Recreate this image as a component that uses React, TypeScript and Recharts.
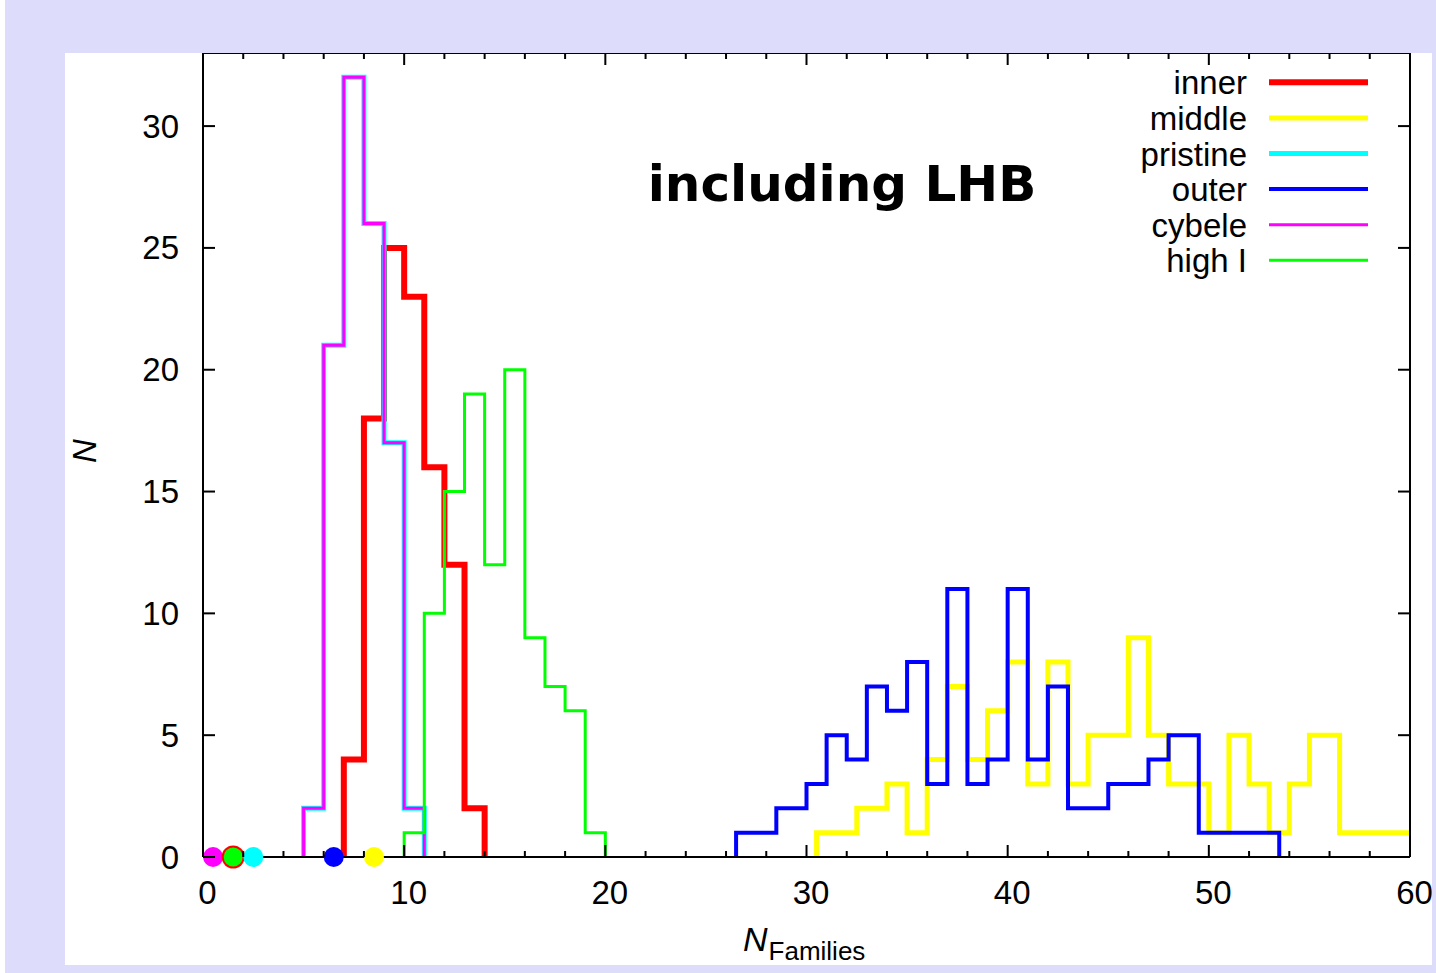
import React from 'react';
import { ComposedChart, Line, Scatter, XAxis, YAxis } from 'recharts';

// bin edges and counts of each family-count histogram
const innerEdges = [7, 8, 9, 10, 11, 12, 13, 14];
const innerCounts = [4, 18, 25, 23, 16, 12, 2];

const middleEdges = [30.5, 32.5, 34, 35, 36, 37, 38, 39, 40, 41, 42, 43, 44, 46, 47, 48, 50, 51, 52, 53, 54, 55, 56.5, 60];
const middleCounts = [1, 2, 3, 1, 4, 7, 4, 6, 8, 3, 8, 3, 5, 9, 5, 3, 1, 5, 3, 1, 3, 5, 1];

const pristineEdges = [5, 6, 7, 8, 9, 10, 11];
const pristineCounts = [2, 21, 32, 26, 17, 2];

const outerEdges = [26.5, 28.5, 30, 31, 32, 33, 34, 35, 36, 37, 38, 39, 40, 41, 42, 43, 45, 47, 48, 49.5, 53.5];
const outerCounts = [1, 2, 3, 5, 4, 7, 6, 8, 3, 11, 3, 4, 11, 4, 7, 2, 3, 4, 5, 1];

const cybeleEdges = [5, 6, 7, 8, 9, 10, 11];
const cybeleCounts = [2, 21, 32, 26, 17, 2];

const highIEdges = [10, 11, 12, 13, 14, 15, 16, 17, 18, 19, 20];
const highICounts = [1, 10, 15, 19, 12, 20, 9, 7, 6, 1];

// observed number of families per region
const observedNames = ['cybele', 'inner', 'high I', 'pristine', 'outer', 'middle'];
const observedX = [0.5, 1.5, 1.5, 2.5, 6.5, 8.5];

const xTicks = [0, 2, 4, 6, 8, 10, 12, 14, 16, 18, 20, 22, 24, 26, 28, 30, 32, 34, 36, 38, 40, 42, 44, 46, 48, 50, 52, 54, 56, 58, 60];
const yTicks = [0, 5, 10, 15, 20, 25, 30];
const X_MAX = 60;

const styles: Record<string, { color: string; width: number; r: number }> = {
  inner: { color: '#ff0000', width: 6, r: 11.5 },
  middle: { color: '#ffff00', width: 5, r: 10 },
  pristine: { color: '#00ffff', width: 5, r: 10 },
  outer: { color: '#0000ff', width: 4, r: 10 },
  cybele: { color: '#ff00ff', width: 3, r: 10 },
  'high I': { color: '#00ff00', width: 3, r: 9.5 },
};

const toSteps = (edges: number[], counts: number[]) => {
  const pts = [{ x: edges[0], y: 0 }];
  counts.forEach((c, i) => pts.push({ x: edges[i], y: c }));
  const last = edges[edges.length - 1];
  pts.push({ x: last, y: last >= X_MAX ? counts[counts.length - 1] : 0 });
  return pts;
};

const series = [
  { name: 'inner', data: toSteps(innerEdges, innerCounts) },
  { name: 'middle', data: toSteps(middleEdges, middleCounts) },
  { name: 'pristine', data: toSteps(pristineEdges, pristineCounts) },
  { name: 'outer', data: toSteps(outerEdges, outerCounts) },
  { name: 'cybele', data: toSteps(cybeleEdges, cybeleCounts) },
  { name: 'high I', data: toSteps(highIEdges, highICounts) },
];

const FONT = '"Liberation Sans", Arial, sans-serif';
const FS = 33;

const BottomTick = (props: any) => {
  const { x, y, payload } = props;
  const major = payload.value % 10 === 0;
  return (
    <g>
      <line x1={x} y1={y} x2={x} y2={y - (major ? 12 : 6)} stroke="#000" strokeWidth={2} />
      {major && (
        <text x={x + 4.5} y={y + 47} textAnchor="middle" fontFamily={FONT} fontSize={FS} fill="#000">
          {payload.value}
        </text>
      )}
    </g>
  );
};

const TopTick = (props: any) => {
  const { x, y, payload } = props;
  const major = payload.value % 10 === 0;
  return <line x1={x} y1={y} x2={x} y2={y + (major ? 12 : 6)} stroke="#000" strokeWidth={2} />;
};

const LeftTick = (props: any) => {
  const { x, y, payload } = props;
  return (
    <g>
      <line x1={x} y1={y} x2={x + 12} y2={y} stroke="#000" strokeWidth={2} />
      <text x={x - 24} y={y + 11.5} textAnchor="end" fontFamily={FONT} fontSize={FS} fill="#000">
        {payload.value}
      </text>
    </g>
  );
};

const RightTick = (props: any) => {
  const { x, y } = props;
  return <line x1={x} y1={y} x2={x - 12} y2={y} stroke="#000" strokeWidth={2} />;
};

const axisLine = { stroke: '#000', strokeWidth: 2 };

export default function App() {
  return (
    <div style={{ position: 'absolute', left: 5, top: 0, width: 1431, height: 973, background: '#dddcfb' }}>
      <div style={{ position: 'absolute', left: 60, top: 53, width: 1367, height: 912, background: '#fff' }}>
        <ComposedChart width={1367} height={912} margin={{ top: -1, right: 21, bottom: 0, left: 0 }}>
          <XAxis
            xAxisId="b"
            type="number"
            dataKey="x"
            domain={[0, 60]}
            ticks={xTicks}
            interval={0}
            height={108}
            tickSize={0}
            tickMargin={0}
            tickLine={false}
            axisLine={axisLine}
            tick={BottomTick}
          />
          <XAxis
            xAxisId="t"
            orientation="top"
            type="number"
            dataKey="x"
            domain={[0, 60]}
            ticks={xTicks}
            interval={0}
            height={1}
            tickSize={0}
            tickMargin={0}
            tickLine={false}
            axisLine={axisLine}
            tick={TopTick}
          />
          <YAxis
            yAxisId="l"
            type="number"
            domain={[0, 33]}
            ticks={yTicks}
            interval={0}
            width={138}
            tickSize={0}
            tickMargin={0}
            tickLine={false}
            axisLine={axisLine}
            tick={LeftTick}
          />
          <YAxis
            yAxisId="r"
            orientation="right"
            type="number"
            domain={[0, 33]}
            ticks={yTicks}
            interval={0}
            width={1}
            tickSize={0}
            tickMargin={0}
            tickLine={false}
            axisLine={axisLine}
            tick={RightTick}
          />

          {observedNames.map((name, i) => (
            <Scatter
              key={'obs-' + name}
              xAxisId="t"
              yAxisId="r"
              data={[{ x: observedX[i], y: 0 }]}
              dataKey="y"
              isAnimationActive={false}
              shape={(p: any) => <circle cx={p.cx} cy={p.cy} r={styles[name].r} fill={styles[name].color} />}
            />
          ))}

          {series.map((s) => (
            <Line
              key={s.name}
              xAxisId="b"
              yAxisId="l"
              type="stepAfter"
              data={s.data}
              dataKey="y"
              name={s.name}
              stroke={styles[s.name].color}
              strokeWidth={styles[s.name].width}
              dot={false}
              activeDot={false}
              isAnimationActive={false}
            />
          ))}

          <text x={777} y={148} textAnchor="middle" fontFamily="DejaVu Sans" fontWeight="bold" fontSize={50} fill="#000">
            including LHB
          </text>

          <g>
            {series.map((s, i) => (
              <g key={'leg-' + s.name}>
                <text x={1182} y={29.3 + i * 35.6 + 12} textAnchor="end" fontFamily={FONT} fontSize={FS} fill="#000">
                  {s.name}
                </text>
                <line
                  x1={1204}
                  x2={1303}
                  y1={29.3 + i * 35.6}
                  y2={29.3 + i * 35.6}
                  stroke={styles[s.name].color}
                  strokeWidth={styles[s.name].width}
                />
              </g>
            ))}
          </g>

          <text
            x={19}
            y={398}
            transform="rotate(-90, 19, 398)"
            textAnchor="middle"
            dominantBaseline="central"
            fontFamily={FONT}
            fontStyle="italic"
            fontSize={33}
            fill="#000"
          >
            N
          </text>
          <text x={678} y={898} fontFamily={FONT} fontSize={34} fill="#000">
            <tspan fontStyle="italic">N</tspan>
            <tspan fontSize={26} dy={9} dx={1}>Families</tspan>
          </text>
        </ComposedChart>
      </div>
    </div>
  );
}
